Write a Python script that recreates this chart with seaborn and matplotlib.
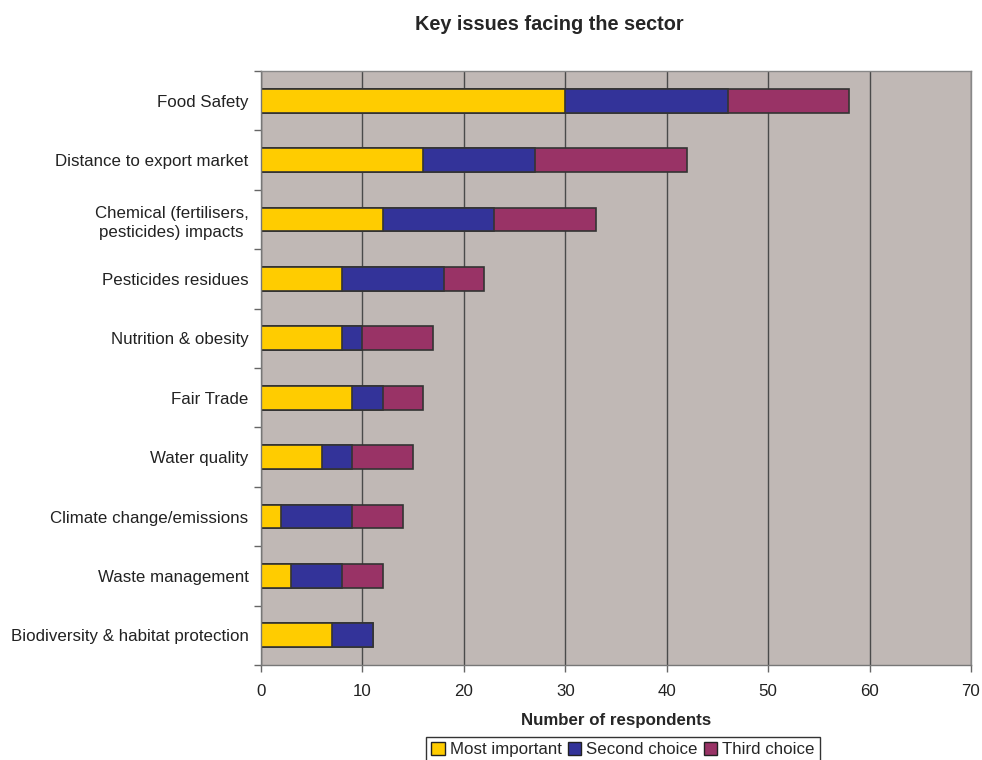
import matplotlib
matplotlib.use("Agg")
import matplotlib.pyplot as plt
import seaborn as sns
import pandas as pd
import numpy as np
from matplotlib.patches import Patch
from matplotlib.ticker import FixedLocator

categories = ["Food Safety", "Distance to export market",
              "Chemical (fertilisers,\npesticides) impacts", "Pesticides residues",
              "Nutrition & obesity", "Fair Trade", "Water quality",
              "Climate change/emissions", "Waste management",
              "Biodiversity & habitat protection"]
most_important = [30, 16, 12, 8, 8, 9, 6, 2, 3, 7]
second_choice = [16, 11, 11, 10, 2, 3, 3, 7, 5, 4]
third_choice = [12, 15, 10, 4, 7, 4, 6, 5, 4, 0]
series_names = ["Most important", "Second choice", "Third choice"]
colors = ["#FFCC00", "#333399", "#993366"]
x_ticks = [0, 10, 20, 30, 40, 50, 60, 70]

sns.set_theme(style="white")
plt.rcParams['font.family'] = ['Liberation Sans', 'DejaVu Sans']

df = pd.DataFrame({"cat": categories, "m": most_important,
                   "s": second_choice, "t": third_choice})
df["c1"] = df["m"]
df["c2"] = df["m"] + df["s"]
df["c3"] = df["m"] + df["s"] + df["t"]

fig = plt.figure(figsize=(9.82, 7.60), dpi=100)
ax = fig.add_axes([261/982, 95/760, 710/982, 594/760])
ax.set_facecolor("#C0B8B5")
ax.set_axisbelow(True)
ax.xaxis.grid(True, color="#4a4a4a", linewidth=1)

for col, c in zip(["c3", "c2", "c1"], colors[::-1]):
    sns.barplot(data=df, x=col, y="cat", orient="h", color=c, width=0.4,
                edgecolor="#333333", linewidth=1.2, saturation=1, ax=ax)

ax.set_xlim(0, 70)
ax.set_ylim(len(categories) - 0.5, -0.5)
ax.set_xticks(x_ticks)
ax.set_xticklabels([str(v) for v in x_ticks], fontsize=12.2, color="#222222")
ax.tick_params(axis="x", bottom=True, length=5, color="#666666", width=1, direction="out", pad=9)
ax.tick_params(axis="y", which="major", left=False, length=0, labelsize=12.2, labelcolor="#222222", pad=9)
ax.yaxis.set_minor_locator(FixedLocator(np.arange(-0.5, len(categories), 1)))
ax.tick_params(axis="y", which="minor", left=True, length=5, color="#666666", width=1, direction="out")
for lbl in ax.get_yticklabels():
    lbl.set_multialignment("center")
    lbl.set_linespacing(1.35)
ax.set_ylabel("")
ax.set_xlabel("Number of respondents", fontsize=12.2, fontweight="bold", labelpad=10)
for s in ax.spines.values():
    s.set_visible(True)
    s.set_color("#888888")
    s.set_linewidth(1)
ax.spines["left"].set_color("#777777")
ax.spines["bottom"].set_color("#777777")

fig.text(549/982, 1 - 24/760, "Key issues facing the sector", ha="center", va="center",
         fontsize=14.3, fontweight="bold")

handles = [Patch(facecolor=c, edgecolor="#222222", linewidth=1, label=n)
           for c, n in zip(colors, series_names)]
leg = fig.legend(handles=handles, loc="lower center", bbox_to_anchor=(623/982, -0.014),
                 ncol=3, frameon=True, fontsize=12.2, handlelength=0.8, handleheight=0.8,
                 handletextpad=0.3, columnspacing=0.35, borderpad=0.3, fancybox=False)
leg.get_frame().set_edgecolor("#000000")
leg.get_frame().set_linewidth(1)

fig.savefig("out.png", dpi=100)
